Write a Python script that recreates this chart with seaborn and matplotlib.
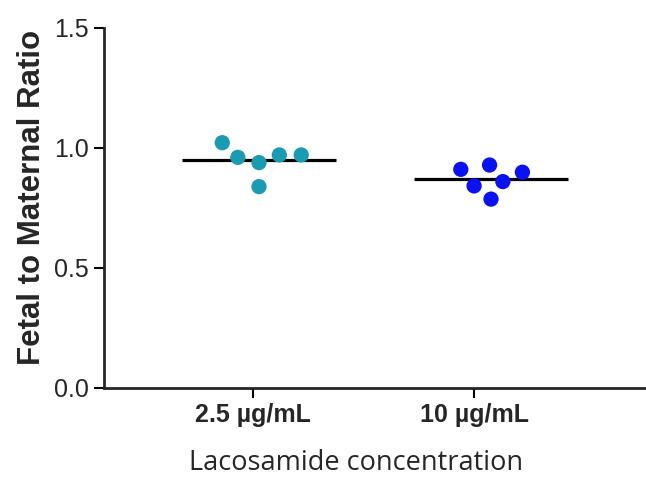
import types
import numpy as np
import pandas as pd
import seaborn as sns
import matplotlib.pyplot as plt
from matplotlib.collections import PathCollection

# ---- data ----
groups = ["2.5 µg/mL", "10 µg/mL"]
ratio_low = [0.971, 0.961, 0.939, 0.971, 1.022, 0.839]
ratio_high = [0.911, 0.860, 0.899, 0.787, 0.842, 0.929]
y_ticks = [0.0, 0.5, 1.0, 1.5]
colors = ["#1a9bb1", "#0b12f2"]

data = pd.DataFrame({
    "group": [groups[0]] * len(ratio_low) + [groups[1]] * len(ratio_high),
    "ratio": ratio_low + ratio_high,
})

sns.set_style("ticks")
plt.rcParams["font.family"] = ["Liberation Sans", "DejaVu Sans"]

fig = plt.figure(figsize=(6.46, 4.79), dpi=100)
ax = fig.add_axes([0.161, 0.19, 0.839, 0.7516])

ax.set_xlim(-0.668, 1.668)
ax.set_ylim(0, 1.5)

# swarm laid out with a wider spacing (like Prism), then markers shrunk
sns.swarmplot(data=data, x="group", y="ratio", hue="group", order=groups,
              palette=colors, size=15, legend=False, ax=ax, zorder=3)
ax.set_xlim(-0.668, 1.668)
fig.canvas.draw()
for coll in ax.collections:
    if isinstance(coll, PathCollection):
        coll.draw = types.MethodType(PathCollection.draw, coll)
        coll.set_sizes([11 ** 2])

# mean lines
means = data.groupby("group", sort=False)["ratio"].mean().reindex(groups)
for i, m in enumerate(means):
    ax.hlines(m, i - 0.33, i + 0.33, color="black", linewidth=2.3, zorder=2)

ax.set_ylim(0, 1.5)
ax.set_yticks(y_ticks)
ax.set_yticklabels([f"{t:.1f}" for t in y_ticks], fontsize=18)
ax.set_xticks([-0.026, 0.927])
ax.set_xticklabels(groups, fontsize=18, fontweight="bold")

ax.set_ylabel("Fetal to Maternal Ratio", fontsize=22.5, fontweight="bold")
ax.yaxis.set_label_coords(-0.105, 0.53)
ax.set_xlabel("Lacosamide concentration", fontsize=19.5, family="Open Sans")
ax.xaxis.set_label_coords(0.465, -0.17)

for side in ["left", "bottom"]:
    ax.spines[side].set_linewidth(2)
sns.despine(ax=ax)
ax.tick_params(axis="both", width=1.5, length=7, color="black", pad=4)

fig.savefig("out.png", dpi=100)
